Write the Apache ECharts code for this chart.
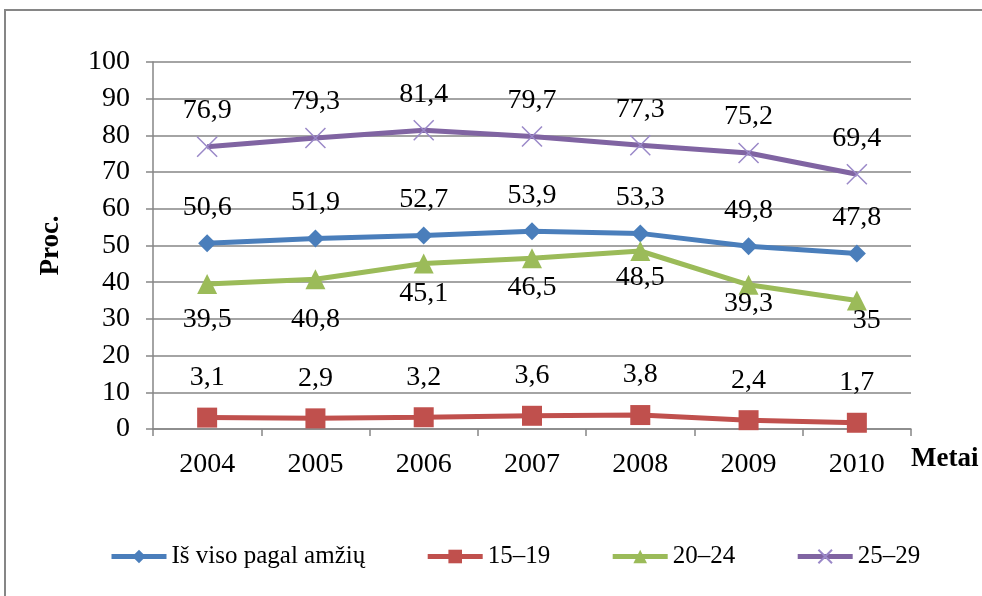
<!DOCTYPE html>
<html>
<head>
<meta charset="utf-8">
<script src="https://cdn.jsdelivr.net/npm/echarts@6/dist/echarts.min.js"></script>
<style>
  html, body { margin: 0; padding: 0; background: #fff; }
  #chart { width: 982px; height: 596px; }
</style>
</head>
<body>
<div id="chart"></div>
<script>
const years = ['2004', '2005', '2006', '2007', '2008', '2009', '2010']
const totalValues = [50.6, 51.9, 52.7, 53.9, 53.3, 49.8, 47.8]
const age1519 = [3.1, 2.9, 3.2, 3.6, 3.8, 2.4, 1.7]
const age2024 = [39.5, 40.8, 45.1, 46.5, 48.5, 39.3, 35]
const age2529 = [76.9, 79.3, 81.4, 79.7, 77.3, 75.2, 69.4]

// label placement below the green points (Excel put these by hand)
const greenLabelShift = [[0, 36], [0, 40], [0, 30], [0, 29], [0, 27], [0, 19], [10, 20]]

const serif = '"Liberation Serif", "Times New Roman", serif'
const gray = '#868686'

const fmt = p => String(p.value).replace('.', ',')

function labelAt(dy) {
  return {
    show: true,
    position: 'inside',
    offset: [0, dy],
    formatter: fmt,
    color: '#000',
    fontFamily: serif,
    fontSize: 28
  }
}

const chart = echarts.init(document.getElementById('chart'))

chart.setOption({
  animation: false,
  textStyle: { fontFamily: serif },
  graphic: [{
    type: 'rect',
    shape: { x: 5, y: 10, width: 1000, height: 620 },
    style: { fill: 'none', stroke: gray, lineWidth: 2 },
    silent: true
  }],
  grid: { left: 153, right: 71, top: 62, bottom: 167 },
  legend: {
    left: 104,
    top: 539,
    itemWidth: 55,
    itemHeight: 17,
    itemGap: 60,
    lineStyle: { width: 5 },
    textStyle: { fontFamily: serif, fontSize: 25, color: '#000' },
    data: ['Iš viso pagal amžių', '15–19', '20–24', '25–29']
  },
  xAxis: {
    type: 'category',
    data: years,
    name: 'Metai',
    nameLocation: 'end',
    nameGap: 0,
    nameTextStyle: {
      fontFamily: serif, fontSize: 27, fontWeight: 'bold', color: '#000',
      verticalAlign: 'top', padding: [17, 0, 0, 0]
    },
    axisLine: { lineStyle: { color: gray, width: 1.5 } },
    axisTick: { show: true, length: 7, lineStyle: { color: gray, width: 1.5 } },
    axisLabel: { margin: 22, fontFamily: serif, fontSize: 28, color: '#000' }
  },
  yAxis: {
    type: 'value',
    min: 0,
    max: 100,
    interval: 10,
    name: 'Proc.',
    nameLocation: 'middle',
    nameGap: 88,
    nameTextStyle: { fontFamily: serif, fontSize: 27, fontWeight: 'bold', color: '#000' },
    axisLine: { show: true, lineStyle: { color: gray, width: 1.5 } },
    axisTick: { show: true, length: 7, lineStyle: { color: gray, width: 1.5 } },
    axisLabel: { margin: 23, fontFamily: serif, fontSize: 28, color: '#000' },
    splitLine: { lineStyle: { color: gray, width: 1.5 } }
  },
  series: [{
    name: 'Iš viso pagal amžių',
    type: 'line',
    data: totalValues,
    symbol: 'diamond',
    symbolSize: 18,
    color: '#4A7EBB',
    lineStyle: { width: 5, color: '#4A7EBB' },
    label: labelAt(-36)
  }, {
    name: '15–19',
    type: 'line',
    data: age1519,
    symbol: 'rect',
    symbolSize: 20,
    color: '#C0504D',
    lineStyle: { width: 5, color: '#C0504D' },
    label: labelAt(-40)
  }, {
    name: '20–24',
    type: 'line',
    data: age2024.map((v, i) => ({
      value: v,
      label: { offset: greenLabelShift[i] }
    })),
    symbol: 'triangle',
    symbolSize: 20,
    color: '#9BBB59',
    lineStyle: { width: 5, color: '#9BBB59' },
    label: labelAt(30)
  }, {
    name: '25–29',
    type: 'line',
    data: age2529,
    symbol: 'path://M0,0L10,10M10,0L0,10',
    symbolSize: 20,
    color: '#8064A2',
    itemStyle: { color: '#8064A2', borderColor: '#9A88C8', borderWidth: 1.5 },
    lineStyle: { width: 5, color: '#8064A2' },
    label: labelAt(-36)
  }]
})
</script>
</body>
</html>
